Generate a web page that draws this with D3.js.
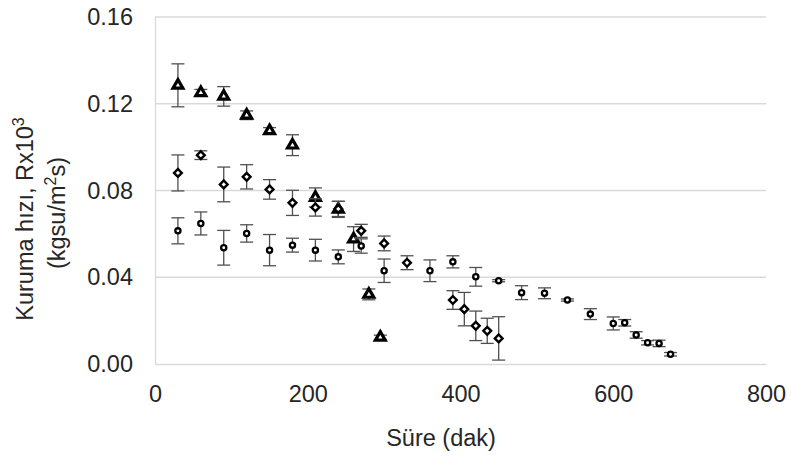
<!DOCTYPE html>
<html>
<head>
<meta charset="utf-8">
<script src="https://cdn.jsdelivr.net/npm/d3@7"></script>
<style>
  body { margin: 0; background: #fff; }
  text { font-family: Arial, "Liberation Sans", sans-serif; }
</style>
</head>
<body>
<svg id="chart" width="791" height="459"></svg>
<script>
// triangles
const triTime = [30, 60, 90, 120, 150, 180, 210, 240, 260, 280, 295];
const triRate = [0.1285, 0.1251, 0.1234, 0.1147, 0.1075, 0.1009, 0.0768, 0.0713, 0.0576, 0.0321, 0.0123];
const triErr = [0.0099, 0.0015, 0.0045, 0.002, 0.0015, 0.0048, 0.0044, 0.0037, 0.0057, 0.0025, 0.001];

// diamonds
const diaTime = [30, 60, 90, 120, 150, 180, 210, 240, 270, 300, 330, 390, 405, 420, 435, 450];
const diaRate = [0.0881, 0.0963, 0.0828, 0.0863, 0.0805, 0.0743, 0.0722, 0.0715, 0.0614, 0.0556, 0.0467, 0.0295, 0.0253, 0.0176, 0.0153, 0.0118];
const diaErr = [0.0083, 0.002, 0.008, 0.0056, 0.0045, 0.0058, 0.004, 0.0035, 0.003, 0.0034, 0.0032, 0.0043, 0.0077, 0.0068, 0.0058, 0.01];

// circles
const cirTime = [30, 60, 90, 120, 150, 180, 210, 240, 270, 300, 360, 390, 420, 450, 480, 510, 540, 570, 600, 615, 630, 645, 660, 675];
const cirRate = [0.0614, 0.0648, 0.0536, 0.0602, 0.0525, 0.0548, 0.0525, 0.0494, 0.0544, 0.043, 0.043, 0.0471, 0.0402, 0.0384, 0.0329, 0.0326, 0.0295, 0.023, 0.0187, 0.019, 0.0134, 0.0098, 0.0095, 0.0045];
const cirErr = [0.006, 0.0053, 0.008, 0.004, 0.0072, 0.0032, 0.005, 0.0032, 0.0033, 0.0054, 0.005, 0.0028, 0.0043, 0.0005, 0.0032, 0.0025, 0.0005, 0.0025, 0.003, 0.0015, 0.0015, 0.001, 0.0015, 0.0008];

const xTicks = [0, 200, 400, 600, 800];
const yTicks = [0, 0.04, 0.08, 0.12, 0.16];

const margin = { top: 17, right: 25, bottom: 95, left: 155 };
const svg = d3.select("#chart");
const innerWidth = +svg.attr("width") - margin.left - margin.right;
const innerHeight = +svg.attr("height") - margin.top - margin.bottom;
const fs = 23.5;

const xScale = d3.scaleLinear().domain([0, 800]).range([0, innerWidth]);
const yScale = d3.scaleLinear().domain([0, 0.16]).range([innerHeight, 0]);

const g = svg.append("g").attr("transform", `translate(${margin.left},${margin.top})`);

//gridlines
g.selectAll(".grid")
  .data(yTicks.slice(1))
  .enter()
  .append("line")
  .attr("x1", 0)
  .attr("x2", innerWidth)
  .attr("y1", (d) => yScale(d))
  .attr("y2", (d) => yScale(d))
  .attr("stroke", "#d9d9d9")
  .attr("stroke-width", 1.3);

const yAxis = d3.axisLeft(yScale).tickValues(yTicks).tickFormat(d3.format(".2f")).tickSize(0).tickPadding(22);
const xAxis = d3.axisBottom(xScale).tickValues(xTicks).tickFormat(d3.format("d")).tickSize(0).tickPadding(21);

const yAxisG = g.append("g").call(yAxis);
const xAxisG = g.append("g").attr("transform", `translate(0,${innerHeight})`).call(xAxis);
[yAxisG, xAxisG].forEach((a) => {
  a.select(".domain").attr("stroke", "#d9d9d9").attr("stroke-width", 1.3);
  a.selectAll("text").attr("font-size", fs).attr("fill", "#262626");
});

xAxisG
  .append("text")
  .attr("x", 286)
  .attr("y", 82)
  .attr("fill", "#262626")
  .attr("font-size", fs)
  .attr("text-anchor", "middle")
  .text("Süre (dak)");

// y title, two lines
const yLabel = g
  .append("text")
  .attr("transform", `translate(-122,202) rotate(-90)`)
  .attr("fill", "#262626")
  .attr("font-size", fs)
  .attr("text-anchor", "middle");
yLabel.append("tspan").text("Kuruma hızı, Rx10");
yLabel.append("tspan").attr("dy", -9).attr("font-size", 16).text("3");
const l2 = g
  .append("text")
  .attr("transform", `translate(-90,196) rotate(-90)`)
  .attr("fill", "#262626")
  .attr("font-size", fs)
  .attr("text-anchor", "middle");
l2.append("tspan").text("(kgsu/m");
l2.append("tspan").attr("dy", -9).attr("font-size", 16).text("2");
l2.append("tspan").attr("dy", 9).text("s)");

const series = [
  { time: triTime, rate: triRate, err: triErr, shape: "tri" },
  { time: diaTime, rate: diaRate, err: diaErr, shape: "dia" },
  { time: cirTime, rate: cirRate, err: cirErr, shape: "cir" },
];

const symTri = d3.symbol().type(d3.symbolTriangle).size(42)();
const symDia = d3.symbol().type(d3.symbolSquare).size(30)();

series.forEach((s) => {
  const data = s.time.map((t, i) => ({ t: t, r: s.rate[i], e: s.err[i] }));
  const eb = g.append("g").selectAll("g").data(data).enter().append("g")
    .attr("stroke", "#505050").attr("stroke-width", 1.3);
  eb.append("line")
    .attr("x1", (d) => xScale(d.t)).attr("x2", (d) => xScale(d.t))
    .attr("y1", (d) => yScale(d.r + d.e)).attr("y2", (d) => yScale(d.r - d.e));
  [1, -1].forEach((k) => {
    eb.append("line")
      .attr("x1", (d) => xScale(d.t) - 6.5).attr("x2", (d) => xScale(d.t) + 6.5)
      .attr("y1", (d) => yScale(d.r + k * d.e)).attr("y2", (d) => yScale(d.r + k * d.e));
  });

  const marks = g.append("g").selectAll("path").data(data).enter();
  if (s.shape == "cir") {
    marks.append("circle")
      .attr("cx", (d) => xScale(d.t)).attr("cy", (d) => yScale(d.r))
      .attr("r", 2.6).attr("fill", "#fff").attr("stroke", "#000").attr("stroke-width", 2.3);
  } else {
    marks.append("path")
      .attr("d", s.shape == "tri" ? symTri : symDia)
      .attr("transform", (d) => `translate(${xScale(d.t)},${yScale(d.r)})` + (s.shape == "dia" ? " rotate(45)" : ""))
      .attr("fill", "#fff").attr("stroke", "#000").attr("stroke-width", s.shape == "tri" ? 3.2 : 2.4)
      .attr("stroke-linejoin", "miter");
  }
});
</script>
</body>
</html>
